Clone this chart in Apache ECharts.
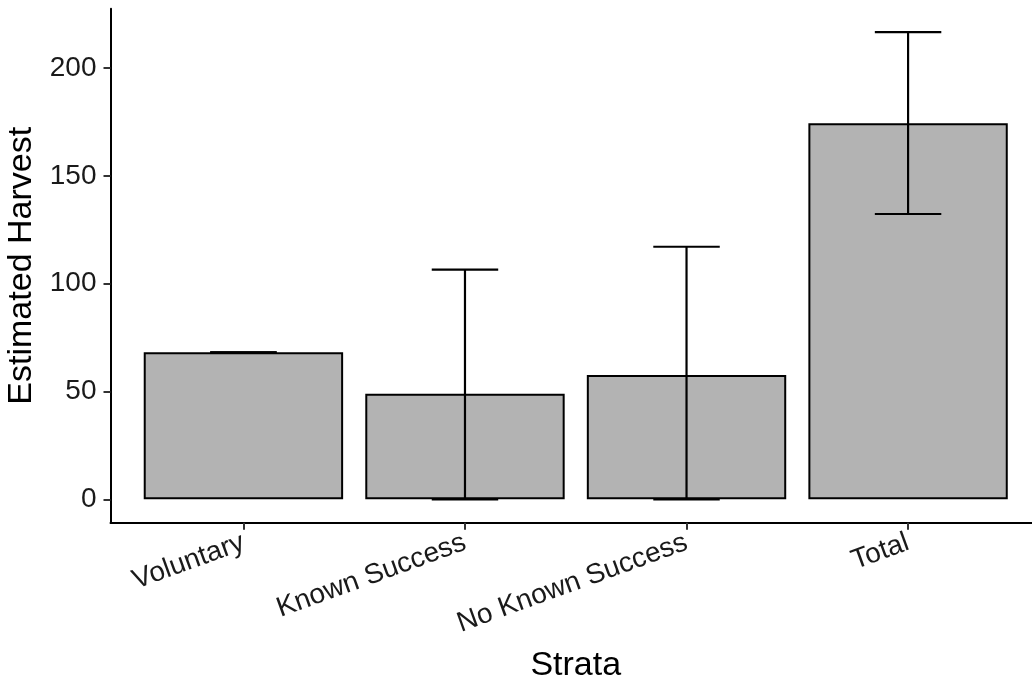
<!DOCTYPE html>
<html>
<head>
<meta charset="utf-8">
<script src="https://cdn.jsdelivr.net/npm/echarts@6/dist/echarts.min.js"></script>
<style>
  html, body { margin: 0; padding: 0; background: #ffffff; overflow: hidden; }
  /* the panel runs slightly past the right edge of the window */
  #chart { width: 1041px; height: 683px; }
</style>
</head>
<body>
<div id="chart"></div>
<script>
// Estimated harvest by stratum, with confidence limits
const strata = ['Voluntary', 'Known Success', 'No Known Success', 'Total'];
const harvest = [68.2, 48.9, 57.7, 174.4];
const lowerCI = [68.2, 0, 0, 132.3];
const upperCI = [68.2, 106.5, 117.1, 216.6];
const yTickValues = [0, 50, 100, 150, 200];

// Layout of the panel (x positions 1..4 for the strata)
const X_MIN = 0.4, X_MAX = 4.6;
const BAR_WIDTH = 0.9, CAP_WIDTH = 0.3;
const Y_MIN = -10.83, Y_MAX = 227.43;
const gridLeft = 110.5, gridRight = 0, gridTop = 8.8, gridBottom = 160.3;
const pxPerUnit = (1041 - gridLeft - gridRight) / (X_MAX - X_MIN);

const positions = strata.map((_, i) => i + 1);
const barData = positions.map((x, i) => [x, harvest[i]]);
const errData = positions.map((x, i) => [x, lowerCI[i], upperCI[i]]);

const FONT = '"Liberation Sans", Arial, sans-serif';
const chart = echarts.init(document.getElementById('chart'), null, { renderer: 'canvas' });

chart.setOption({
  animation: false,
  backgroundColor: '#ffffff',
  grid: {
    left: gridLeft, right: gridRight, top: gridTop, bottom: gridBottom,
    containLabel: false,
    outerBoundsMode: 'none'
  },
  xAxis: {
    type: 'value',
    min: X_MIN,
    max: X_MAX,
    name: 'Strata',
    nameLocation: 'middle',
    nameGap: 126,
    nameTextStyle: { fontFamily: FONT, fontSize: 34, color: '#000000', verticalAlign: 'top' },
    axisLine: { show: true, onZero: false, lineStyle: { color: '#000000', width: 2 } },
    axisTick: { show: true, length: 7, customValues: positions, lineStyle: { color: '#333333', width: 2 } },
    axisLabel: {
      customValues: positions,
      formatter: v => strata[Math.round(v) - 1],
      rotate: 20,
      margin: 19,
      fontFamily: FONT,
      fontSize: 28,
      color: '#1a1a1a'
    },
    splitLine: { show: false }
  },
  yAxis: {
    type: 'value',
    min: Y_MIN,
    max: Y_MAX,
    name: 'Estimated Harvest',
    nameLocation: 'middle',
    nameGap: 67,
    nameRotate: 90,
    nameTextStyle: { fontFamily: FONT, fontSize: 34, color: '#000000' },
    axisLine: { show: true, onZero: false, lineStyle: { color: '#000000', width: 2 } },
    axisTick: { show: true, length: 7, customValues: yTickValues, lineStyle: { color: '#333333', width: 2 } },
    axisLabel: {
      customValues: yTickValues,
      margin: 14,
      fontFamily: FONT,
      fontSize: 28,
      color: '#1a1a1a'
    },
    splitLine: { show: false }
  },
  series: [
    {
      type: 'bar',
      data: barData,
      barWidth: BAR_WIDTH * pxPerUnit,
      itemStyle: { color: '#b3b3b3', borderColor: '#000000', borderWidth: 2 },
      z: 2
    },
    {
      type: 'custom',
      data: errData,
      z: 3,
      renderItem: function (params, api) {
        const x = api.value(0);
        const lo = api.coord([x, api.value(1)]);
        const hi = api.coord([x, api.value(2)]);
        const half = api.size([CAP_WIDTH, 0])[0] / 2;
        const style = { stroke: '#000000', lineWidth: 2.2, fill: null };
        return {
          type: 'group',
          children: [
            { type: 'line', shape: { x1: lo[0], y1: lo[1], x2: hi[0], y2: hi[1] }, style },
            { type: 'line', shape: { x1: hi[0] - half, y1: hi[1], x2: hi[0] + half, y2: hi[1] }, style },
            { type: 'line', shape: { x1: lo[0] - half, y1: lo[1], x2: lo[0] + half, y2: lo[1] }, style }
          ]
        };
      }
    }
  ]
});
</script>
</body>
</html>
